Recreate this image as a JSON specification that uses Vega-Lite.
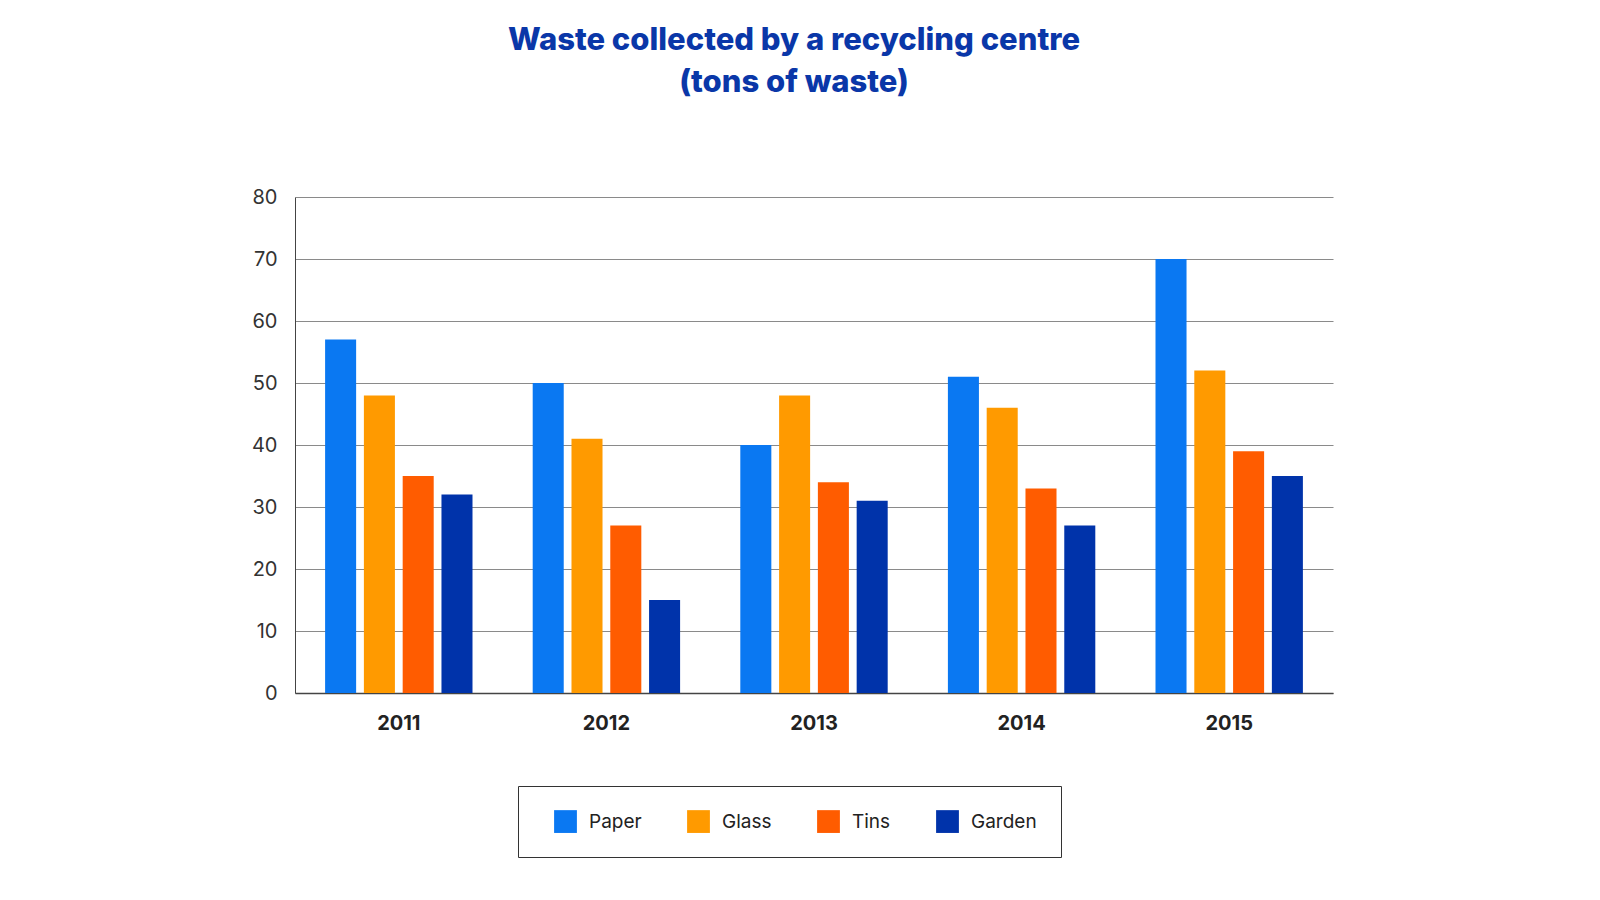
{
  "$schema": "https://vega.github.io/schema/vega-lite/v6.json",
  "width": 1038,
  "height": 496,
  "autosize": {"type": "none"},
  "padding": {"left": 295, "top": 197, "right": 267, "bottom": 207},
  "background": "white",
  "title": {
    "text": ["Waste collected by a recycling centre", "(tons of waste)"],
    "font": "Inter",
    "fontSize": 31,
    "fontWeight": 800,
    "color": "#0A37A8",
    "lineHeight": 42,
    "anchor": "middle",
    "dx": -20,
    "offset": 88
  },
  "data": {
    "values": [
      {"year": "2011", "type": "Paper", "tons": 57},
      {"year": "2011", "type": "Glass", "tons": 48},
      {"year": "2011", "type": "Tins", "tons": 35},
      {"year": "2011", "type": "Garden", "tons": 32},
      {"year": "2012", "type": "Paper", "tons": 50},
      {"year": "2012", "type": "Glass", "tons": 41},
      {"year": "2012", "type": "Tins", "tons": 27},
      {"year": "2012", "type": "Garden", "tons": 15},
      {"year": "2013", "type": "Paper", "tons": 40},
      {"year": "2013", "type": "Glass", "tons": 48},
      {"year": "2013", "type": "Tins", "tons": 34},
      {"year": "2013", "type": "Garden", "tons": 31},
      {"year": "2014", "type": "Paper", "tons": 51},
      {"year": "2014", "type": "Glass", "tons": 46},
      {"year": "2014", "type": "Tins", "tons": 33},
      {"year": "2014", "type": "Garden", "tons": 27},
      {"year": "2015", "type": "Paper", "tons": 70},
      {"year": "2015", "type": "Glass", "tons": 52},
      {"year": "2015", "type": "Tins", "tons": 39},
      {"year": "2015", "type": "Garden", "tons": 35}
    ]
  },
  "mark": {"type": "bar"},
  "encoding": {
    "x": {
      "field": "year",
      "type": "nominal",
      "scale": {"paddingInner": 0.29, "paddingOuter": 0.145},
      "axis": {
        "title": null,
        "labelAngle": 0,
        "labelFont": "Inter",
        "labelFontSize": 20,
        "labelFontWeight": 700,
        "labelColor": "#222222",
        "labelPadding": 20,
        "ticks": false,
        "domainColor": "#444444",
        "domainWidth": 1.5,
        "grid": false
      }
    },
    "xOffset": {
      "field": "type",
      "sort": ["Paper", "Glass", "Tins", "Garden"],
      "scale": {"paddingInner": 0.2, "paddingOuter": 0}
    },
    "y": {
      "field": "tons",
      "type": "quantitative",
      "scale": {"domain": [0, 80]},
      "axis": {
        "title": null,
        "values": [0, 10, 20, 30, 40, 50, 60, 70, 80],
        "labelOverlap": false,
        "labelFont": "Inter",
        "labelFontSize": 20,
        "labelColor": "#333333",
        "labelPadding": 18,
        "ticks": false,
        "domainColor": "#444444",
        "domainWidth": 1,
        "gridColor": "#8a8a8a",
        "gridWidth": 1.2
      }
    },
    "color": {
      "field": "type",
      "type": "nominal",
      "sort": ["Paper", "Glass", "Tins", "Garden"],
      "scale": {
        "domain": ["Paper", "Glass", "Tins", "Garden"],
        "range": ["#0A78F2", "#FF9A00", "#FF5C00", "#0033AA"]
      },
      "legend": {
        "title": null,
        "orient": "none",
        "direction": "horizontal",
        "legendX": 223,
        "legendY": 589,
        "symbolType": "square",
        "symbolSize": 520,
        "symbolStrokeWidth": 0,
        "symbolOffset": 12,
        "labelFont": "Inter",
        "labelFontSize": 19,
        "labelColor": "#222222",
        "labelOffset": 12,
        "columnPadding": 33,
        "padding": 24,
        "strokeColor": "#333333",
        "fillColor": "white"
      }
    }
  },
  "config": {
    "view": {"stroke": null},
    "axis": {"gridOpacity": 1}
  }
}
